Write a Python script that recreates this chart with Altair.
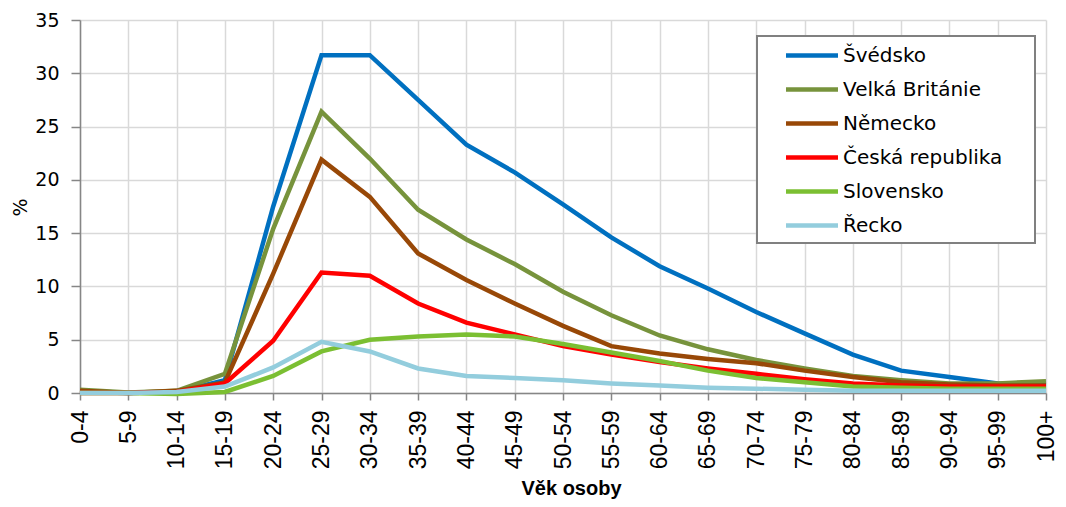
import altair as alt
import pandas as pd

ages = ["0-4", "5-9", "10-14", "15-19", "20-24", "25-29", "30-34", "35-39", "40-44",
        "45-49", "50-54", "55-59", "60-64", "65-69", "70-74", "75-79", "80-84",
        "85-89", "90-94", "95-99", "100+"]

series_names = ["Švédsko", "Velká Británie", "Německo", "Česká republika", "Slovensko", "Řecko"]
series_colors = ["#0070C0", "#77933C", "#984807", "#FF0000", "#7BBF32", "#93CDDD"]

sweden   = [0.1, 0.0, 0.1, 1.2, 17.5, 31.7, 31.7, 27.5, 23.3, 20.7, 17.7, 14.6, 11.9, 9.8, 7.6, 5.6, 3.6, 2.1, 1.5, 0.9, 0.8]
uk       = [0.3, 0.05, 0.2, 1.8, 15.4, 26.4, 22.0, 17.2, 14.4, 12.1, 9.5, 7.3, 5.4, 4.1, 3.1, 2.3, 1.6, 1.2, 0.9, 0.9, 1.1]
germany  = [0.2, 0.0, 0.2, 1.0, 11.2, 21.9, 18.4, 13.1, 10.6, 8.4, 6.3, 4.4, 3.7, 3.2, 2.8, 2.1, 1.5, 1.0, 0.8, 0.7, 0.7]
czech    = [0.0, 0.0, 0.1, 0.9, 4.9, 11.3, 11.0, 8.4, 6.6, 5.5, 4.4, 3.6, 2.9, 2.3, 1.8, 1.3, 0.9, 0.7, 0.6, 0.6, 0.6]
slovakia = [0.0, 0.0, -0.1, 0.1, 1.6, 3.9, 5.0, 5.3, 5.5, 5.3, 4.6, 3.8, 3.0, 2.1, 1.4, 1.0, 0.6, 0.5, 0.4, 0.4, 0.4]
greece   = [0.0, 0.0, 0.1, 0.6, 2.4, 4.8, 3.9, 2.3, 1.6, 1.4, 1.2, 0.9, 0.7, 0.5, 0.4, 0.3, 0.2, 0.2, 0.2, 0.2, 0.2]

all_values = [sweden, uk, germany, czech, slovakia, greece]

rows = []
for name, vals in zip(series_names, all_values):
    for a, v in zip(ages, vals):
        rows.append({"age": a, "value": v, "series": name})
df = pd.DataFrame(rows)

FONT = "DejaVu Sans"

base = alt.Chart(df).mark_line(strokeWidth=4.5).encode(
    x=alt.X("age:N", sort=ages, title="Věk osoby",
            scale=alt.Scale(type="point", padding=0),
            axis=alt.Axis(labelAngle=270, labelAlign="right", labelBaseline="middle",
                          labelFont="Liberation Sans", labelFontSize=23, labelColor="black",
                          labelPadding=10, tickSize=7, tickColor="#868686", tickWidth=1.5,
                          domainColor="#868686", domainWidth=1.5,
                          grid=True, gridColor="#D9D9D9", gridWidth=1.5,
                          titleFont="Liberation Sans", titleFontSize=20, titleFontWeight="bold",
                          titleColor="black", titleX=491, titleY=95, titleBaseline="middle",
                          titleAlign="center")),
    y=alt.Y("value:Q", title="%",
            scale=alt.Scale(domain=[0, 35], nice=False, zero=False),
            axis=alt.Axis(values=[0, 5, 10, 15, 20, 25, 30, 35], labelFont=FONT, labelFontSize=19,
                          labelColor="black", labelPadding=12, tickSize=9, tickColor="#868686",
                          tickWidth=1.5, domainColor="#868686", domainWidth=1.5,
                          grid=True, gridColor="#D9D9D9", gridWidth=1.5,
                          titleFont=FONT, titleFontSize=19, titleFontWeight="normal",
                          titleColor="black", titleAngle=270, titleX=-60, titleY=187,
                          titleAlign="center", titleBaseline="middle")),
    color=alt.Color("series:N", title=None,
                    scale=alt.Scale(domain=series_names, range=series_colors),
                    legend=alt.Legend(orient="none", legendX=677, legendY=16,
                                      symbolType="M-2.6,0H2.6", symbolSize=400,
                                      symbolStrokeWidth=4.5, symbolOffset=35.5,
                                      symbolFillColor="transparent",
                                      labelFont=FONT, labelFontSize=20, labelColor="black",
                                      labelLimit=400, labelOffset=18.5,
                                      labelExpr="datum.label + '\u00a0\u00a0\u00a0\u00a0\u200b'",
                                      padding=7, rowPadding=11,
                                      strokeColor="#808080", fillColor="white")),
)

layers = [base.transform_filter(alt.datum.series == s) for s in series_names]

chart = alt.layer(*layers).properties(
    width=966, height=373,
    padding={"left": 72, "top": 12, "right": 12, "bottom": 106},
    autosize=alt.AutoSizeParams(type="none"),
).configure_view(stroke=None).configure_legend(strokeWidth=2)

chart.save("out.html", embed_options={"renderer": "svg", "actions": False})
